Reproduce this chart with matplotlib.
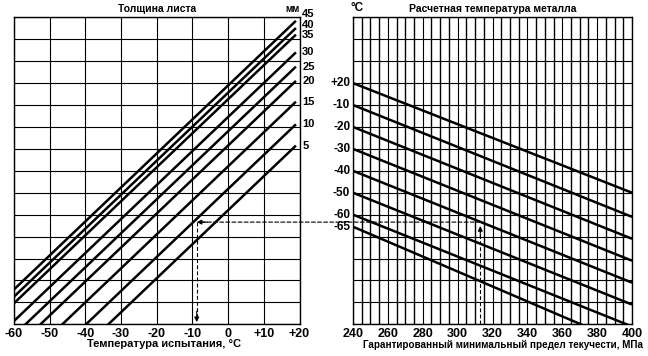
import matplotlib
matplotlib.use('Agg')
import matplotlib.pyplot as plt
from matplotlib.patches import ConnectionPatch
import numpy as np


plt.rcParams['font.family'] = ['Liberation Sans', 'DejaVu Sans']
plt.rcParams['font.weight'] = 'bold'
plt.rcParams['axes.labelweight'] = 'bold'
plt.rcParams['font.size'] = 8

W, H = 648, 356

# Left nomogram: plate thickness lines (test temperature vs design temperature)
thickness = [5, 10, 15, 20, 25, 30, 35, 40, 45]
thick_y_at_m60 = [-151.0, -141.3, -131.0, -121.5, -115.0, -108.5, -100.4, -97.4, -94.1]
thick_y_at_p19 = [-28.5, -18.8, -8.5, 1.0, 7.5, 14.0, 22.1, 25.1, 28.4]
test_temp_ticks = [-60, -50, -40, -30, -20, -10, 0, 10, 20]
test_temp_labels = ['-60', '-50', '-40', '-30', '-20', '-10', '0', '+10', '+20']

# Right nomogram: design metal temperature vs yield strength
metal_temp_labels = ['+20', '-10', '-20', '-30', '-40', '-50', '-60', '-65']
metal_y_at_240 = [0, -10, -20, -30, -40, -50, -60, -65.5]
metal_y_at_400 = [-50, -61, -71, -81, -91, -101, -111, -120]
yield_ticks = [240, 260, 280, 300, 320, 340, 360, 380, 400]

# Worked example path
example_yield = 313
example_temp = -63.4
example_test = -8.8

YMIN, YMAX = -110, 30


def setup(ax):
    ax.set_ylim(YMIN, YMAX)
    ax.set_yticks(np.arange(YMIN, YMAX + 1, 10))
    ax.set_yticklabels([])
    ax.tick_params(axis='both', which='both', length=0, pad=3, labelsize=9)
    ax.grid(True, which='both', color='black', lw=0.8)
    for s in ax.spines.values():
        s.set_linewidth(1.0)
    ax.set_axisbelow(True)


def arrow(ax, tip, tail):
    ax.annotate('', xy=tip, xytext=tail,
                arrowprops=dict(arrowstyle='-|>', color='black', lw=0.8,
                                mutation_scale=7, shrinkA=0, shrinkB=0))


def main():
    fig = plt.figure(figsize=(W / 100, H / 100), dpi=100)
    bottom = 1 - 324.3 / H
    height = 307 / H
    ax1 = fig.add_axes([14 / W, bottom, 285.5 / W, height])
    ax2 = fig.add_axes([353 / W, bottom, 279 / W, height])

    # Left panel
    setup(ax1)
    ax1.set_xlim(-60, 20)
    ax1.set_xticks(test_temp_ticks)
    ax1.set_xticklabels(test_temp_labels)
    for t, y0, y1 in zip(thickness, thick_y_at_m60, thick_y_at_p19):
        ax1.plot([-60, 19], [y0, y1], color='black', lw=1.8, solid_capstyle='butt')
    label_nudge = {45: 4.8, 40: 2.2, 35: -0.6}
    for t, y1 in zip(thickness, thick_y_at_p19):
        ax1.annotate(str(t), (19, y1), xytext=(4.5, label_nudge.get(t, 0)),
                     textcoords='offset points', ha='left', va='center',
                     fontsize=8, annotation_clip=False)

    # Right panel
    setup(ax2)
    ax2.set_xlim(240, 400)
    ax2.set_xticks(yield_ticks)
    ax2.set_xticks(np.arange(240, 401, 5), minor=True)
    ax2.grid(True, which='minor', axis='x', color='black', lw=1.0)
    for lab, y0, y1 in zip(metal_temp_labels, metal_y_at_240, metal_y_at_400):
        ax2.plot([240, 400], [y0, y1], color='black', lw=1.8, solid_capstyle='butt')
        ax2.annotate(lab, (240, y0), xytext=(-2, 0), textcoords='offset points',
                     ha='right', va='center', fontsize=8.5, annotation_clip=False)

    # Dashed example path
    dash = (0, (3.5, 2))
    ax2.plot([example_yield, example_yield], [YMIN, example_temp - 2.2],
             color='black', lw=0.8, ls=dash)
    arrow(ax2, (example_yield, example_temp - 1.8), (example_yield, example_temp - 7))
    con = ConnectionPatch(xyA=(example_yield, example_temp), coordsA=ax2.transData,
                          xyB=(example_test + 1.5, example_temp), coordsB=ax1.transData,
                          color='black', lw=0.8, ls=dash)
    fig.add_artist(con)
    arrow(ax1, (example_test, example_temp), (example_test + 3, example_temp))
    ax1.plot([example_test, example_test], [example_temp, YMIN + 4],
             color='black', lw=0.8, ls=dash)
    arrow(ax1, (example_test, YMIN + 1), (example_test, YMIN + 6))

    # Axis titles and headings
    fig.text(164 / W, 1 - 344 / H, 'Температура испытания, °C',
             ha='center', va='center', fontsize=8)
    fig.text(503 / W, 1 - 344.5 / H, 'Гарантированный минимальный предел текучести, МПа',
             ha='center', va='center', fontsize=7.1)
    fig.text(157 / W, 1 - 8.5 / H, 'Толщина листа', ha='center', va='center', fontsize=7.5)
    fig.text(293 / W, 1 - 8.5 / H, 'мм', ha='center', va='center', fontsize=7)
    fig.text(493 / W, 1 - 8.5 / H, 'Расчетная температура металла',
             ha='center', va='center', fontsize=7.5)
    fig.text(357 / W, 1 - 8 / H, '°C', ha='center', va='center', fontsize=8.5)

    fig.savefig('out.png', dpi=100)


if __name__ == '__main__':
    main()
